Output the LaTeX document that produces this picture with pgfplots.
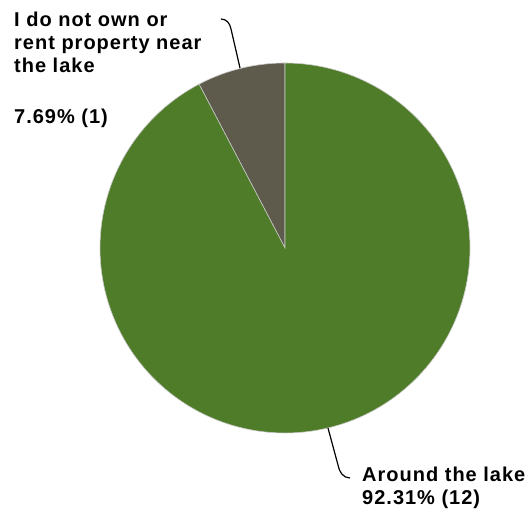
\documentclass[border=0pt]{standalone}
\usepackage{pgfplots}
\pgfplotsset{compat=1.18}
\usepackage{fontspec}
\setmainfont{Liberation Sans}[LetterSpace=5]
\definecolor{piegreen}{RGB}{79,124,40}
\definecolor{piegray}{RGB}{94,90,76}
\definecolor{edge}{RGB}{200,200,200}
% data: percentage shares
\def\sharegray{7.69}
\def\sharegreen{92.31}
\begin{document}
\begin{tikzpicture}
\begin{axis}[
  width=532bp, height=516bp, scale only axis,
  xmin=0, xmax=532, ymin=0, ymax=516,
  hide axis, clip=false,
]
\path (axis cs:0,0) rectangle (axis cs:532,516);
% gray slice: starts at 90 deg, counterclockwise
\addplot[fill=piegray, draw=edge, line width=0.6pt, domain=0:1, samples=40]
  ({285+185*cos(90+x*\sharegray*3.6)}, {268+185*sin(90+x*\sharegray*3.6)}) -- (axis cs:285,268) -- cycle;
% green slice
\addplot[fill=piegreen, draw=edge, line width=0.6pt, domain=0:1, samples=200]
  ({285+185*cos(90+\sharegray*3.6+x*\sharegreen*3.6)}, {268+185*sin(90+\sharegray*3.6+x*\sharegreen*3.6)}) -- (axis cs:285,268) -- cycle;
% leader lines
\draw[black, line width=1.2pt] (axis cs:240,448) -- (axis cs:231,487) to[out=100,in=0] (axis cs:221,497);
\draw[black, line width=1.2pt] (axis cs:328,88) -- (axis cs:338,51) to[out=-80,in=180] (axis cs:350,38);
% labels
\begin{scope}[every node/.style={anchor=base west, inner sep=0pt, font=\fontsize{20bp}{23bp}\selectfont\bfseries}]
\node at (axis cs:14,489) {I do not own or};
\node at (axis cs:14,466) {rent property near};
\node at (axis cs:14,443) {the lake};
\node at (axis cs:14,392) {7.69\% (1)};
\node at (axis cs:362,34) {Around the lake};
\node at (axis cs:362,12) {92.31\% (12)};
\end{scope}
\end{axis}
\end{tikzpicture}
\end{document}
